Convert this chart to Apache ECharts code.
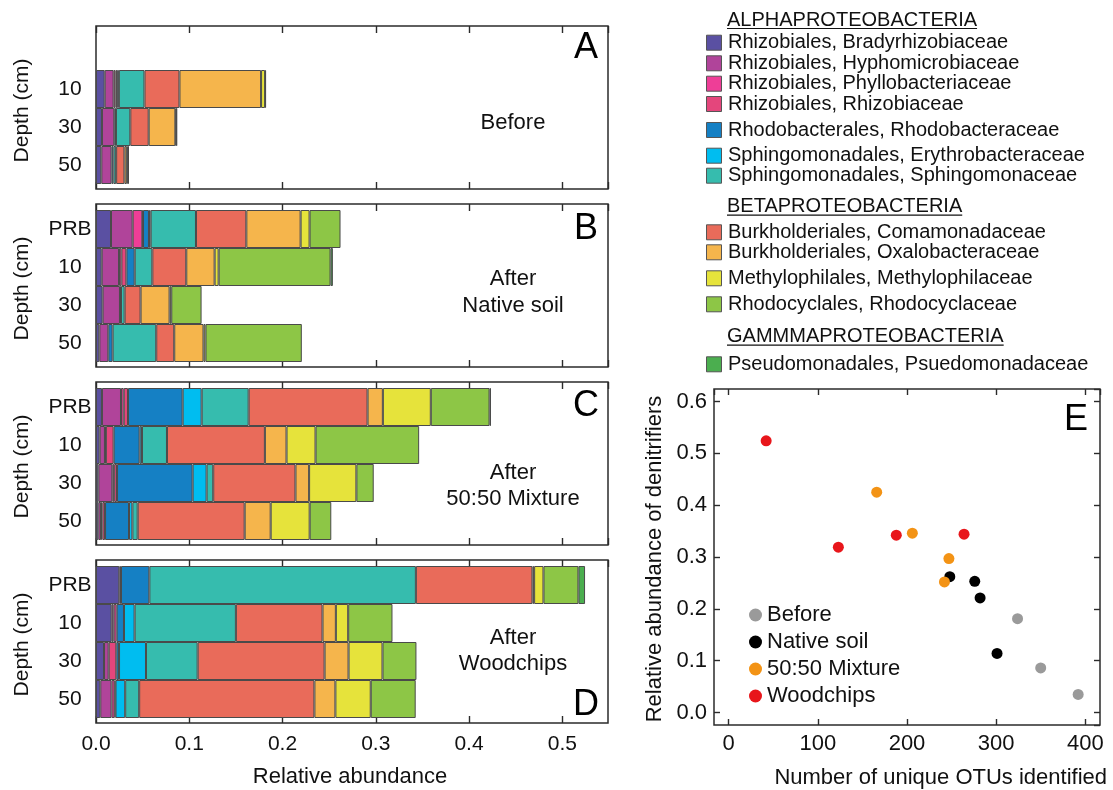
<!DOCTYPE html>
<html>
<head>
<meta charset="utf-8">
<script src="https://cdn.jsdelivr.net/npm/echarts@6/dist/echarts.min.js"></script>
<style>
  html, body { margin: 0; padding: 0; background: #fff; }
  #chart { width: 1113px; height: 790px; }
</style>
</head>
<body>
<div id="chart"></div>
<script>
// ---- Taxa (stack order, left to right) ----
const taxa = [
  'Rhizobiales, Bradyrhizobiaceae',
  'Rhizobiales, Hyphomicrobiaceae',
  'Rhizobiales, Phyllobacteriaceae',
  'Rhizobiales, Rhizobiaceae',
  'Rhodobacterales, Rhodobacteraceae',
  'Sphingomonadales, Erythrobacteraceae',
  'Sphingomonadales, Sphingomonaceae',
  'Burkholderiales, Comamonadaceae',
  'Burkholderiales, Oxalobacteraceae',
  'Methylophilales, Methylophilaceae',
  'Rhodocyclales, Rhodocyclaceae',
  'Pseudomonadales, Psuedomonadaceae'
];
const taxonColors = [
  '#5a50a2', '#b0449a', '#ee3e97', '#e4467c', '#1580c4', '#00bdf0',
  '#36bcae', '#e96b5a', '#f5b54c', '#e6e33b', '#8dc646', '#4bae4f'
];
const taxonClasses = ['ALPHAPROTEOBACTERIA', 'BETAPROTEOBACTERIA', 'GAMMMAPROTEOBACTERIA'];

// Depth rows (top to bottom)
const depthRows = ['PRB', '10', '30', '50'];

// Relative abundance per row; columns follow the taxa order
const beforeData = [
  [null, null, null, null, null, null, null, null, null, null, null, null],
  [0.0093, 0.0096, 0.0020, 0.0018, 0.0018, 0, 0.0275, 0.0375, 0.0875, 0.0043, 0.0010, 0],
  [0.0064, 0.0132, 0, 0, 0.0018, 0, 0.0154, 0.0197, 0.0286, 0.0010, 0.0008, 0],
  [0.0057, 0.0110, 0, 0, 0.0020, 0, 0.0029, 0.0089, 0.0025, 0.0010, 0.0014, 0]
];
const nativeSoilData = [
  [0.0161, 0.0232, 0.0104, 0.0007, 0.0064, 0.0018, 0.0486, 0.0540, 0.0582, 0.0096, 0.0332, 0],
  [0.0061, 0.0186, 0.0025, 0.0054, 0.0089, 0, 0.0189, 0.0364, 0.0304, 0.0043, 0.1200, 0.0025],
  [0.0071, 0.0186, 0, 0, 0.0011, 0, 0.0039, 0.0171, 0.0311, 0.0018, 0.0325, 0],
  [0.0036, 0.0096, 0, 0, 0.0046, 0, 0.0468, 0.0193, 0.0314, 0.0021, 0.1033, 0]
];
const mixtureData = [
  [0.0064, 0.0204, 0.0029, 0.0046, 0.0586, 0.0204, 0.0504, 0.1275, 0.0164, 0.0514, 0.0630, 0.0015],
  [0.0039, 0.0057, 0.0010, 0.0083, 0.0279, 0.0025, 0.0268, 0.1050, 0.0232, 0.0311, 0.1111, 0],
  [0.0025, 0.0150, 0.0020, 0.0030, 0.0811, 0.0150, 0.0071, 0.0882, 0.0146, 0.0507, 0.0186, 0],
  [0.0025, 0.0029, 0.0015, 0.0028, 0.0257, 0.0036, 0.0057, 0.1147, 0.0279, 0.0418, 0.0232, 0]
];
const woodchipsData = [
  [0.0250, 0.0018, 0, 0, 0.0304, 0, 0.2858, 0.1250, 0.0018, 0.0100, 0.0375, 0.0071],
  [0.0168, 0.0021, 0.0032, 0, 0.0079, 0.0114, 0.1086, 0.0929, 0.0143, 0.0132, 0.0475, 0],
  [0.0086, 0.0050, 0, 0.0082, 0.0029, 0.0289, 0.0554, 0.1361, 0.0257, 0.0364, 0.0364, 0],
  [0.0046, 0.0121, 0.0032, 0, 0.0010, 0.0104, 0.0150, 0.1879, 0.0225, 0.0379, 0.0482, 0]
];

// Panel E: [unique OTUs, relative abundance of denitrifiers]
const treatments = ['Before', 'Native soil', '50:50 Mixture', 'Woodchips'];
const beforePoints = [[324, 0.181], [350, 0.086], [392, 0.035]];
const nativeSoilPoints = [[248, 0.262], [276, 0.253], [282, 0.221], [301, 0.114]];
const mixturePoints = [[166, 0.425], [206, 0.346], [247, 0.297], [242, 0.252]];
const woodchipsPoints = [[42, 0.524], [123, 0.319], [188, 0.342], [264, 0.344]];
const treatmentColors = ['#9a9a9a', '#000000', '#f39315', '#e8161b'];

// ---- Layout ----
const FONT = '"Liberation Sans", Arial, Helvetica, sans-serif';
const INK = '#111';
const FRAME = '#2b2b2b';
const barLeft = 96, barWidthPx = 512, boxH = 163;
const boxTops = [26, 204, 382, 560];
const abundanceMax = 0.549;

const panels = [
  { rows: beforeData, letter: 'A', caption: ['Before'], letterY: 48.5, captionY: [123] },
  { rows: nativeSoilData, letter: 'B', caption: ['After', 'Native soil'], letterY: 229.5, captionY: [279, 306] },
  { rows: mixtureData, letter: 'C', caption: ['After', '50:50 Mixture'], letterY: 406.5, captionY: [472.5, 499] },
  { rows: woodchipsData, letter: 'D', caption: ['After', 'Woodchips'], letterY: 705.5, captionY: [637.5, 664] }
];

const grids = [], xAxes = [], yAxes = [], series = [], graphics = [];
const tickStyle = { color: FRAME, width: 1.4 };
const noLine = { show: false, onZero: false };

panels.forEach((p, i) => {
  const top = boxTops[i];
  // frame grid (box + ticks)
  grids.push({ left: barLeft, top: top, width: barWidthPx, height: boxH, show: true,
    borderColor: FRAME, borderWidth: 1.5, backgroundColor: 'transparent', containLabel: false });
  // data grid (bars)
  grids.push({ left: barLeft, top: top + 6, width: barWidthPx, height: 152, containLabel: false });

  const showLabels = i === panels.length - 1;
  xAxes.push({ gridIndex: 2 * i, type: 'value', min: 0, max: abundanceMax, interval: 0.1, position: 'bottom',
    axisLine: noLine, splitLine: { show: false },
    axisTick: { inside: true, length: 7, lineStyle: tickStyle },
    axisLabel: { show: showLabels, showMaxLabel: false, margin: 11, fontSize: 21, fontFamily: FONT, color: INK,
      formatter: v => v.toFixed(1) } });
  xAxes.push({ gridIndex: 2 * i, type: 'value', min: 0, max: abundanceMax, interval: 0.1, position: 'top',
    axisLine: noLine, splitLine: { show: false },
    axisTick: { inside: true, length: 7, lineStyle: tickStyle }, axisLabel: { show: false } });
  xAxes.push({ gridIndex: 2 * i + 1, type: 'value', min: 0, max: abundanceMax, show: false });

  yAxes.push({ gridIndex: 2 * i, type: 'value', show: false, axisLine: noLine });
  const hasData = p.rows.map(r => r.some(v => v));
  yAxes.push({ gridIndex: 2 * i + 1, type: 'category', inverse: true, data: depthRows,
    axisLine: noLine, axisTick: { show: false }, splitLine: { show: false },
    axisLabel: { margin: 26, align: 'center', fontSize: 21, fontFamily: FONT, color: INK,
      formatter: (v, idx) => hasData[idx] ? v : '' } });

  taxa.forEach((name, t) => {
    series.push({
      type: 'bar', name: name, stack: 'panel' + i,
      xAxisIndex: 3 * i + 2, yAxisIndex: 2 * i + 1,
      barCategoryGap: '0%',
      data: p.rows.map(r => (r[t] ? r[t] : '-')),
      itemStyle: { color: taxonColors[t], borderColor: '#4a4a4a', borderWidth: 1 },
      emphasis: { disabled: true },
      silent: true
    });
  });

  // panel letter
  graphics.push({ type: 'text', x: 586, y: p.letterY, style: { text: p.letter, fontSize: 36,
    fontFamily: FONT, fill: '#000', align: 'center', verticalAlign: 'middle' } });
  // treatment caption
  p.caption.forEach((line, k) => {
    graphics.push({ type: 'text', x: 513, y: p.captionY[k], style: { text: line, fontSize: 22,
      fontFamily: FONT, fill: INK, align: 'center', verticalAlign: 'middle' } });
  });
  // depth axis title
  graphics.push({ type: 'text', x: 22, y: top + boxH / 2 + 3, rotation: Math.PI / 2,
    style: { text: 'Depth (cm)', fontSize: 21, fontFamily: FONT, fill: INK, align: 'center', verticalAlign: 'middle' } });
});

// x title under the bar panels
graphics.push({ type: 'text', x: 350, y: 777, style: { text: 'Relative abundance', fontSize: 22,
  fontFamily: FONT, fill: INK, align: 'center', verticalAlign: 'middle' } });

// ---- Panel E: scatter ----
const sc = { left: 714, top: 389, width: 386, height: 336 };
grids.push({ left: sc.left, top: sc.top, width: sc.width, height: sc.height, show: true,
  borderColor: FRAME, borderWidth: 1.5, backgroundColor: 'transparent' });
const scGrid = grids.length - 1;
const otuAxis = { gridIndex: scGrid, type: 'value', min: -16.5, max: 416.5, splitNumber: 4,
  axisLine: noLine, splitLine: { show: false },
  axisTick: { inside: true, length: 6, lineStyle: tickStyle } };
xAxes.push(Object.assign({}, otuAxis, { position: 'bottom',
  axisLabel: { showMinLabel: false, showMaxLabel: false, margin: 8, fontSize: 22, fontFamily: FONT, color: INK } }));
xAxes.push(Object.assign({}, otuAxis, { position: 'top', axisLabel: { show: false } }));
const denAxis = { gridIndex: scGrid, type: 'value', min: -0.024, max: 0.624, splitNumber: 6,
  axisLine: noLine, splitLine: { show: false },
  axisTick: { inside: true, length: 6, lineStyle: tickStyle } };
yAxes.push(Object.assign({}, denAxis, { position: 'left',
  axisLabel: { showMinLabel: false, showMaxLabel: false, margin: 7, fontSize: 22, fontFamily: FONT, color: INK,
    formatter: v => v.toFixed(1) } }));
yAxes.push(Object.assign({}, denAxis, { position: 'right', axisLabel: { show: false } }));
const scX = xAxes.length - 2, scY = yAxes.length - 2;

[beforePoints, nativeSoilPoints, mixturePoints, woodchipsPoints].forEach((pts, k) => {
  series.push({ type: 'scatter', name: treatments[k], xAxisIndex: scX, yAxisIndex: scY,
    data: pts, symbolSize: 11, itemStyle: { color: treatmentColors[k], opacity: 1 },
    emphasis: { disabled: true } });
});

graphics.push({ type: 'text', x: 1076, y: 420.5, style: { text: 'E', fontSize: 36, fontFamily: FONT,
  fill: '#000', align: 'center', verticalAlign: 'middle' } });
graphics.push({ type: 'text', x: 655, y: 559, rotation: Math.PI / 2, style: {
  text: 'Relative abundance of denitrifiers', fontSize: 22, fontFamily: FONT, fill: INK,
  align: 'center', verticalAlign: 'middle' } });
graphics.push({ type: 'text', x: 1107, y: 778, style: { text: 'Number of unique OTUs identified',
  fontSize: 22, fontFamily: FONT, fill: INK, align: 'right', verticalAlign: 'middle' } });

// ---- Taxa key (grouped by class) ----
const measure = document.createElement('canvas').getContext('2d');
measure.font = '20px ' + FONT;
const keyRows = [
  { header: 0, y: 20 },
  { taxon: 0, y: 42.7 }, { taxon: 1, y: 63.3 }, { taxon: 2, y: 83.7 }, { taxon: 3, y: 104 },
  { taxon: 4, y: 130 }, { taxon: 5, y: 155.7 }, { taxon: 6, y: 175.7 },
  { header: 1, y: 206.7 },
  { taxon: 7, y: 232.3 }, { taxon: 8, y: 252.3 }, { taxon: 9, y: 278.3 }, { taxon: 10, y: 304.3 },
  { header: 2, y: 336.7 },
  { taxon: 11, y: 364.3 }
];
keyRows.forEach(r => {
  if (r.header !== undefined) {
    const txt = taxonClasses[r.header];
    graphics.push({ type: 'text', x: 727, y: r.y, style: { text: txt, fontSize: 20, fontFamily: FONT,
      fill: INK, align: 'left', verticalAlign: 'middle' } });
    const w = measure.measureText(txt).width;
    graphics.push({ type: 'line', shape: { x1: 727, y1: r.y + 8.5, x2: 727 + w, y2: r.y + 8.5 },
      style: { stroke: INK, lineWidth: 1.2 } });
  } else {
    graphics.push({ type: 'rect', shape: { x: 706.5, y: r.y - 7.5, width: 15, height: 15 },
      style: { fill: taxonColors[r.taxon], stroke: '#555', lineWidth: 1 } });
    graphics.push({ type: 'text', x: 728, y: r.y, style: { text: taxa[r.taxon], fontSize: 20,
      fontFamily: FONT, fill: INK, align: 'left', verticalAlign: 'middle' } });
  }
});

const chart = echarts.init(document.getElementById('chart'), null, { renderer: 'canvas' });
chart.setOption({
  animation: false,
  backgroundColor: '#ffffff',
  textStyle: { fontFamily: FONT },
  grid: grids,
  xAxis: xAxes,
  yAxis: yAxes,
  series: series,
  legend: {
    data: treatments, orient: 'vertical', left: 744, top: 599,
    icon: 'circle', itemWidth: 13, itemHeight: 13, itemGap: 5,
    textStyle: { fontSize: 22, fontFamily: FONT, color: INK, lineHeight: 22 },
    selectedMode: false
  },
  graphic: graphics
});
</script>
</body>
</html>
